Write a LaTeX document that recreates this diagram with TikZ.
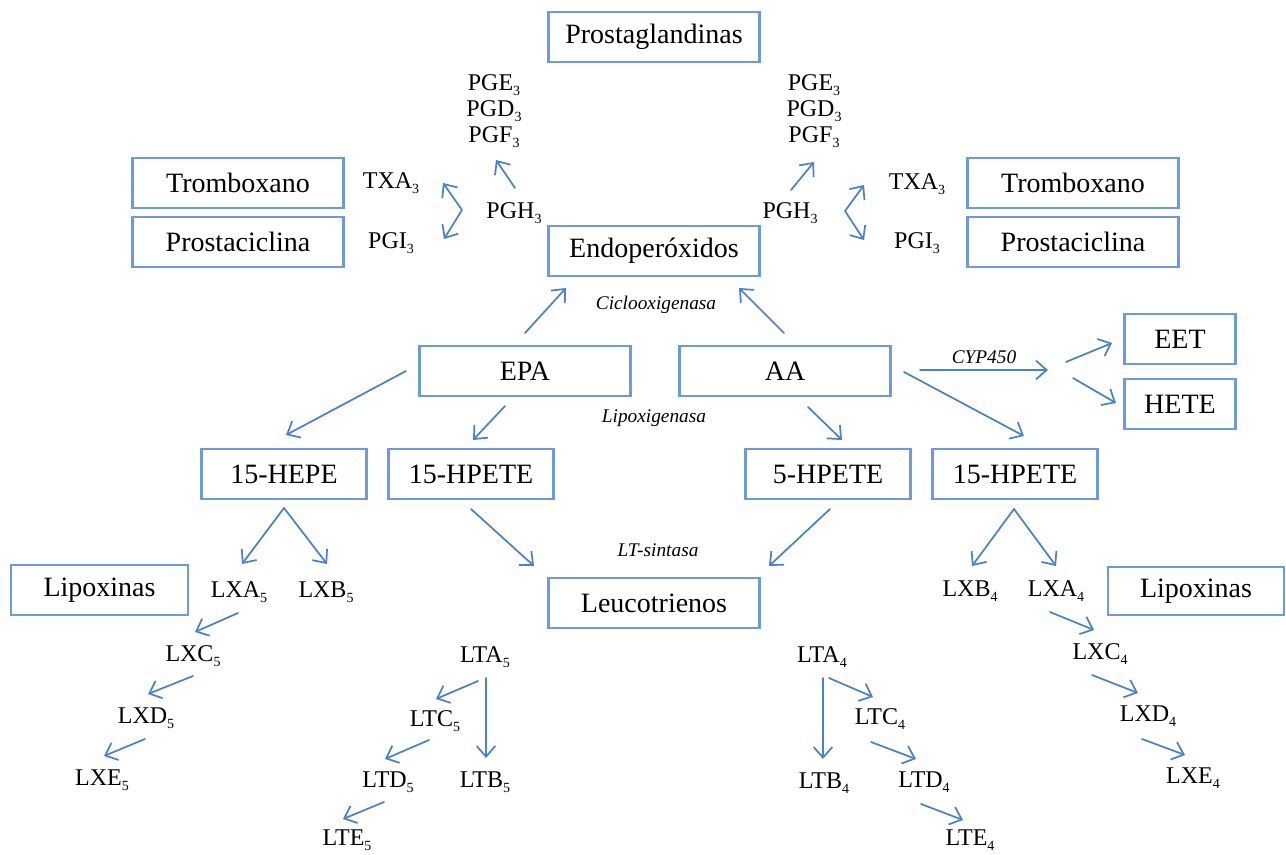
\documentclass[tikz,border=0pt]{standalone}
\usepackage{fontspec}
\setmainfont{Liberation Serif}
\usetikzlibrary{arrows.meta,calc}
\definecolor{boxblue}{RGB}{108,155,218}
\definecolor{arrblue}{RGB}{74,128,204}
\newcommand\mysb[1]{\raisebox{-0.5ex}{\fontsize{10.5}{11}\selectfont #1}}
\begin{document}
\begin{tikzpicture}[x=0.75pt,y=-0.75pt,
  box/.style={draw=boxblue,line width=2pt,inner sep=0pt,minimum height=37.5pt,font=\fontsize{21}{25}\selectfont},
  bigbox/.style={box,minimum width=158.25pt},
  midbox/.style={box,minimum width=123.75pt},
  smallbox/.style={box,minimum width=83.25pt},
  lbl/.style={inner sep=0pt,font=\fontsize{18}{21}\selectfont},
  enz/.style={inner sep=0pt,font=\fontsize{14.5}{17}\selectfont\itshape},
  arr/.style={draw=arrblue,line width=1.3pt,line cap=round,line join=round,-{Straight Barb[length=8pt,width=14pt,line width=1.3pt]}},
  arrb/.style={draw=arrblue,line width=1.3pt,line cap=round,line join=round,{Straight Barb[length=8pt,width=14pt,line width=1.3pt]}-{Straight Barb[length=8pt,width=14pt,line width=1.3pt]}}
]
\useasboundingbox (0,0) rectangle (1286,854);

% boxes
\node[bigbox] (PGm) at (654,37) {Prostaglandinas};
\node[bigbox] (End) at (654,251) {Endoperóxidos};
\node[bigbox] (TxL) at (238,183) {Tromboxano};
\node[bigbox] (PcL) at (238,242) {Prostaciclina};
\node[bigbox] (TxR) at (1073,183) {Tromboxano};
\node[bigbox] (PcR) at (1073,242) {Prostaciclina};
\node[bigbox] (EPA) at (525,371) {EPA};
\node[bigbox] (AA) at (785,371) {AA};
\node[smallbox] (EET) at (1180,339) {EET};
\node[smallbox] (HETE) at (1180,404) {HETE};
\node[midbox] (HEPE) at (284,474) {15-HEPE};
\node[midbox] (HPl) at (471,474) {15-HPETE};
\node[midbox] (HP5) at (828,474) {5-HPETE};
\node[midbox] (HPr) at (1015,474) {15-HPETE};
\node[box,minimum width=132.75pt] (LipL) at (99.5,590) {Lipoxinas};
\node[bigbox] (Leu) at (654,603) {Leucotrienos};
\node[box,minimum width=132pt,minimum height=36pt] (LipR) at (1196,591) {Lipoxinas};

% prostaglandin labels
\node[lbl] (pgeL) at (494,85) {PGE\mysb{3}};
\node[lbl] (pgdL) at (494,111) {PGD\mysb{3}};
\node[lbl] (pgfL) at (494,137) {PGF\mysb{3}};
\node[lbl] (pghL) at (514,213) {PGH\mysb{3}};
\node[lbl] (txaL) at (391,183) {TXA\mysb{3}};
\node[lbl] (pgiL) at (391,243) {PGI\mysb{3}};
\node[lbl] (pgeR) at (814,85) {PGE\mysb{3}};
\node[lbl] (pgdR) at (814,111) {PGD\mysb{3}};
\node[lbl] (pgfR) at (814,137) {PGF\mysb{3}};
\node[lbl] (pghR) at (790,213) {PGH\mysb{3}};
\node[lbl] (txaR) at (917,184) {TXA\mysb{3}};
\node[lbl] (pgiR) at (917,243) {PGI\mysb{3}};

% enzymes
\node[enz] (cox) at (656,305) {Ciclooxigenasa};
\node[enz] (lox) at (654,418) {Lipoxigenasa};
\node[enz] (cyp) at (984,357) {CYP450};
\node[enz] (lts) at (658,550) {LT-sintasa};

% lipoxins / leukotrienes
\node[lbl] (lxa5) at (239,592) {LXA\mysb{5}};
\node[lbl] (lxb5) at (326,592) {LXB\mysb{5}};
\node[lbl] (lxc5) at (193,656) {LXC\mysb{5}};
\node[lbl] (lxd5) at (146,718) {LXD\mysb{5}};
\node[lbl] (lxe5) at (102,780) {LXE\mysb{5}};
\node[lbl] (lta5) at (485,657) {LTA\mysb{5}};
\node[lbl] (ltc5) at (435,721) {LTC\mysb{5}};
\node[lbl] (ltd5) at (388,782) {LTD\mysb{5}};
\node[lbl] (ltb5) at (485,782) {LTB\mysb{5}};
\node[lbl] (lte5) at (347,840) {LTE\mysb{5}};
\node[lbl] (lxb4) at (970,591) {LXB\mysb{4}};
\node[lbl] (lxa4) at (1056,591) {LXA\mysb{4}};
\node[lbl] (lxc4) at (1100,654) {LXC\mysb{4}};
\node[lbl] (lxd4) at (1148,716) {LXD\mysb{4}};
\node[lbl] (lxe4) at (1193,778) {LXE\mysb{4}};
\node[lbl] (lta4) at (822,657) {LTA\mysb{4}};
\node[lbl] (ltc4) at (880,719) {LTC\mysb{4}};
\node[lbl] (ltb4) at (824,783) {LTB\mysb{4}};
\node[lbl] (ltd4) at (924,782) {LTD\mysb{4}};
\node[lbl] (lte4) at (970,840) {LTE\mysb{4}};

% arrows: prostanoids
\draw[arr] ($(pghL)+(1,-25)$) -- ($(pgfL)+(2,23)$);
\draw[arrb] ($(pghL)+(-71,-30)$) -- ($(pghL)+(-52,-3)$) -- ($(pghL)+(-70,26)$);
\draw[arr] ($(pghR)+(1,-23)$) -- ($(pgfR)+(0,25)$);
\draw[arrb] ($(pghR)+(74,-28)$) -- ($(pghR)+(55,-2)$) -- ($(pghR)+(74,27)$);
\draw[arr] ($(EPA)+(0,-38)$) -- ($(End)+(-88,37)$);
\draw[arr] ($(AA)+(-1,-38)$) -- ($(End)+(85,37)$);

% CYP450
\draw[arr] ($(AA)+(135,-1)$) -- ($(cyp)+(64,13)$);
\draw[arr] ($(cyp)+(82,5)$) -- ($(EET)+(-68,4)$);
\draw[arr] ($(cyp)+(89,21)$) -- ($(HETE)+(-64,-1)$);

% lipoxygenase
\draw[arr] ($(EPA)+(-119,0)$) -- ($(HEPE)+(2,-39)$);
\draw[arr] ($(EPA)+(-20,35)$) -- ($(HPl)+(2,-34)$);
\draw[arr] ($(AA)+(23,36)$) -- ($(HP5)+(14,-34)$);
\draw[arr] ($(AA)+(119,1)$) -- ($(HPr)+(9,-38)$);

% second level
\draw[arr] ($(HEPE)+(0,34)$) -- ($(lxa5)+(3,-28)$);
\draw[arr] ($(HEPE)+(0,34)$) -- ($(lxb5)+(1,-28)$);
\draw[arr] ($(HPl)+(0,35)$) -- ($(Leu)+(-120,-37)$);
\draw[arr] ($(HP5)+(2,35)$) -- ($(Leu)+(115,-37)$);
\draw[arr] ($(HPr)+(-1,35)$) -- ($(lxb4)+(2,-25)$);
\draw[arr] ($(HPr)+(-1,35)$) -- ($(lxa4)+(0,-25)$);

% lipoxin 5 chain
\draw[arr] ($(lxa5)+(-1,21)$) -- ($(lxc5)+(2,-24)$);
\draw[arr] ($(lxc5)+(0,20)$) -- ($(lxd5)+(2,-24)$);
\draw[arr] ($(lxd5)+(-1,21)$) -- ($(lxe5)+(2,-24)$);

% leukotriene 5 chain
\draw[arr] ($(lta5)+(-7,24)$) -- ($(ltc5)+(1,-22)$);
\draw[arr] ($(lta5)+(1,21)$) -- ($(ltb5)+(1,-24)$);
\draw[arr] ($(ltc5)+(-6,19)$) -- ($(ltd5)+(-3,-23)$);
\draw[arr] ($(ltd5)+(-4,20)$) -- ($(lte5)+(-4,-21)$);

% lipoxin 4 chain
\draw[arr] ($(lxa4)+(-6,21)$) -- ($(lxc4)+(-6,-24)$);
\draw[arr] ($(lxc4)+(-8,21)$) -- ($(lxd4)+(-10,-23)$);
\draw[arr] ($(lxd4)+(-6,23)$) -- ($(lxe4)+(-8,-23)$);

% leukotriene 4 chain
\draw[arr] ($(lta4)+(1,21)$) -- ($(ltb4)+(-1,-24)$);
\draw[arr] ($(lta4)+(7,21)$) -- ($(ltc4)+(-7,-22)$);
\draw[arr] ($(ltc4)+(-9,23)$) -- ($(ltd4)+(-8,-23)$);
\draw[arr] ($(ltd4)+(-3,22)$) -- ($(lte4)+(-7,-20)$);
\end{tikzpicture}
\end{document}
